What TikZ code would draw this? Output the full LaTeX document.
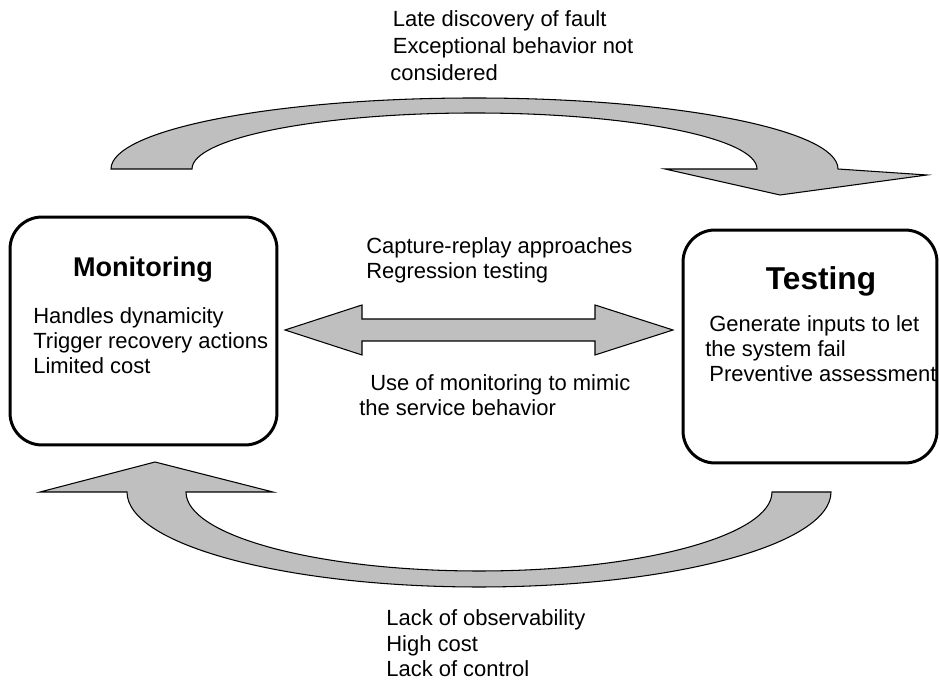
\documentclass[tikz,border=0pt]{standalone}
\usepackage{fontspec}
\setmainfont{Liberation Sans}
\usepackage{tikz}

\begin{document}
\begin{tikzpicture}[x=0.02cm, y=0.02cm,
    caja/.style={draw, line width=1.7pt, rounded corners=0.64cm, inner sep=0pt},
    flecha/.style={fill=black!25, draw=black, line width=0.6pt},
    texto/.style={inner sep=0pt, anchor=north west, align=left, font=\fontsize{12.5}{14.2}\selectfont},
    titulo/.style={inner sep=0pt, anchor=base}]
  \useasboundingbox (0,0) rectangle (940,682);
  % cajas
  \node[caja, minimum width=5.34cm, minimum height=4.56cm] (mon) at (143.5,351) {};
  \node[caja, minimum width=5.08cm, minimum height=4.66cm] (test) at (810,335.5) {};
  \node[titulo, font=\fontsize{15.4}{18}\selectfont\bfseries] (montit) at (143,405) {Monitoring};
  \node[titulo, font=\fontsize{18}{21}\selectfont\bfseries] (testtit) at (821,392) {Testing};
  \node[texto] (montxt) at (33,375) {Handles dynamicity\\Trigger recovery actions\\Limited cost};
  \node[texto] (testtxt) at (705,367) {\hspace*{0.08cm}Generate inputs to let\\the system fail\\\hspace*{0.08cm}Preventive assessment};

  % flecha de arriba
  \draw[flecha] (111,513) arc[start angle=180, end angle=0, x radius=363.5, y radius=71]
    -- (927,507) -- (780,487) -- (665,513) -- (757,513)
    arc[start angle=0, end angle=180, x radius=282.5, y radius=56] -- cycle;
  \node[texto, font=\fontsize{12.5}{15.3}\selectfont] (toptxt) at (390,672)
    {\hspace*{0.05cm}Late discovery of fault\\\hspace*{0.05cm}Exceptional behavior not\\considered};

  % flecha doble
  \draw[flecha] (285,352) -- (362,377) -- (362,363) -- (595,363) -- (595,377) -- (673,352)
    -- (595,327) -- (595,341) -- (362,341) -- (362,327) -- cycle;
  \node[texto] (midtop) at (366,445) {Capture-replay approaches\\Regression testing};
  \node[texto] (midbot) at (359,308) {\hspace*{0.22cm}Use of monitoring to mimic\\the service behavior};

  % flecha de abajo
  \draw[flecha] (831,190) arc[start angle=0, end angle=-180, x radius=352, y radius=95]
    -- (40,190) -- (155,220) -- (273,190) -- (186,190)
    arc[start angle=180, end angle=360, x radius=293, y radius=79] -- cycle;
  \node[texto, font=\fontsize{12.5}{14.7}\selectfont] (bottxt) at (386,73) {Lack of observability\\High cost\\Lack of control};
\end{tikzpicture}
\end{document}
